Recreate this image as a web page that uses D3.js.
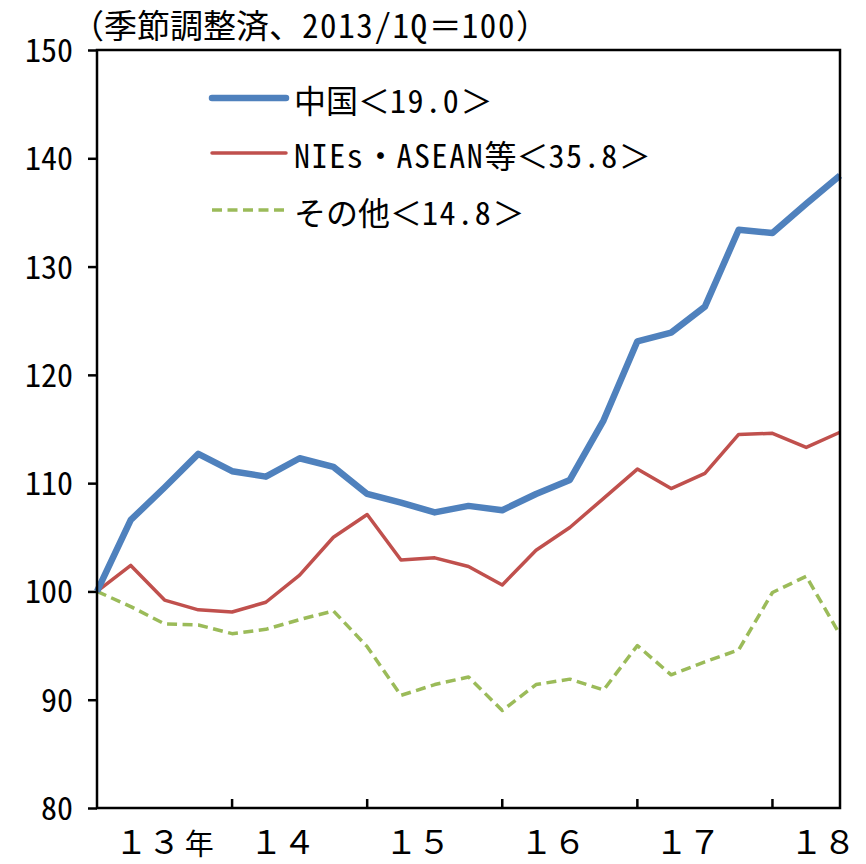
<!DOCTYPE html>
<html>
<head>
<meta charset="utf-8">
<script src="https://cdn.jsdelivr.net/npm/d3@7"></script>
<style>
  body { margin: 0; background: #fff; }
  svg text {
    font-family: "Noto Sans CJK JP", sans-serif;
    fill: #000;
  }
  /* half-width latin like the original gothic font */
  .hw { font-feature-settings: "hwid" 1; }
  .wide .hw { letter-spacing: 1.6px; }
</style>
</head>
<body>
<div id="container"></div>
<script>
//quarters 2013/1Q - 2018/3Q
const quarters = [
  "13/1Q", "13/2Q", "13/3Q", "13/4Q",
  "14/1Q", "14/2Q", "14/3Q", "14/4Q",
  "15/1Q", "15/2Q", "15/3Q", "15/4Q",
  "16/1Q", "16/2Q", "16/3Q", "16/4Q",
  "17/1Q", "17/2Q", "17/3Q", "17/4Q",
  "18/1Q", "18/2Q", "18/3Q",
];
const china = [
  100, 106.6, 109.6, 112.7, 111.1, 110.6, 112.3, 111.5, 109.0, 108.2, 107.3,
  107.9, 107.5, 109.0, 110.3, 115.8, 123.1, 123.9, 126.3, 133.4, 133.1, 135.8,
  138.4,
];
const niesAsean = [
  100, 102.4, 99.2, 98.3, 98.1, 99.0, 101.5, 105.0, 107.1, 102.9, 103.1, 102.3,
  100.6, 103.8, 105.9, 108.6, 111.3, 109.5, 110.9, 114.5, 114.6, 113.3, 114.7,
];
const others = [
  100, 98.6, 97.0, 96.9, 96.1, 96.5, 97.4, 98.2, 94.9, 90.4, 91.4, 92.1, 89.0,
  91.4, 91.9, 90.9, 95.0, 92.3, 93.5, 94.6, 99.9, 101.4, 96.0,
];
const seriesNames = ["中国＜19.0＞", "NIEs・ASEAN等＜35.8＞", "その他＜14.8＞"];
const yTicks = [80, 90, 100, 110, 120, 130, 140, 150];
const yearLabels = ["１３", "１４", "１５", "１６", "１７", "１８"];
const yearUnit = "年";
const title = "（季節調整済、2013/1Q＝100）";

const width = 866,
  height = 864;
const plotLeft = 97,
  plotRight = 840,
  plotTop = 50,
  plotBottom = 808;

//split a string so ascii runs get half-width glyphs
const writeMixed = (textSel, str) => {
  const runs = str.match(/[\x20-\x7e]+|[^\x20-\x7e]+/g) || [];
  runs.forEach((r) => {
    textSel
      .append("tspan")
      .attr("class", /^[\x20-\x7e]/.test(r) ? "hw" : null)
      .text(r);
  });
};

const svg = d3
  .select("#container")
  .append("svg")
  .attr("width", width)
  .attr("height", height);

const x = d3.scalePoint().domain(quarters).range([plotLeft, plotRight]);
const y = d3.scaleLinear().domain([80, 150]).range([plotBottom, plotTop]);

//y axis
const yAxis = d3
  .axisLeft(y)
  .tickValues(yTicks)
  .tickSize(9)
  .tickSizeOuter(0)
  .tickPadding(15);
const yG = svg
  .append("g")
  .attr("transform", `translate(${plotLeft},0)`)
  .call(yAxis);
yG.select(".domain").remove();
yG.selectAll(".tick line").attr("stroke", "#000").attr("stroke-width", 2.5);
yG.selectAll(".tick text")
  .attr("class", "hw")
  .style("font-size", "32px")
  .attr("dy", "0.36em");

//x axis ticks at each 1Q (inside)
const yearStarts = quarters.filter((q, i) => i > 0 && q.endsWith("/1Q"));
svg
  .append("g")
  .selectAll("line")
  .data(yearStarts)
  .enter()
  .append("line")
  .attr("x1", (d) => x(d))
  .attr("x2", (d) => x(d))
  .attr("y1", plotBottom)
  .attr("y2", plotBottom - 9)
  .attr("stroke", "#000")
  .attr("stroke-width", 2.5);

//year labels centred between 2Q and 3Q
const labelX = (i) => {
  const yy = quarters[i * 4].slice(0, 2);
  return (x(yy + "/2Q") + x(yy + "/3Q")) / 2;
};
svg
  .append("g")
  .selectAll("text")
  .data(yearLabels)
  .enter()
  .append("text")
  .attr("x", (d, i) => labelX(i))
  .attr("y", 854)
  .attr("text-anchor", "middle")
  .style("font-size", "33px")
  .text((d) => d);
svg
  .append("text")
  .attr("x", labelX(0) + 37)
  .attr("y", 855)
  .style("font-size", "29px")
  .text(yearUnit);

//title
svg
  .append("text")
  .attr("class", "wide")
  .attr("x", 71)
  .attr("y", 38)
  .style("font-size", "33px")
  .call(writeMixed, title);

//lines
const lineStyles = [
  { data: china, color: "#4F81BD", width: 6.5, dash: null },
  { data: niesAsean, color: "#C0504D", width: 3.5, dash: null },
  { data: others, color: "#9BBB59", width: 3.5, dash: "10,5.5" },
];
const line = d3
  .line()
  .x((d, i) => x(quarters[i]))
  .y((d) => y(d));

svg
  .append("g")
  .selectAll("path")
  .data(lineStyles.slice().reverse())
  .enter()
  .append("path")
  .attr("d", (d) => line(d.data))
  .attr("fill", "none")
  .attr("stroke", (d) => d.color)
  .attr("stroke-width", (d) => d.width)
  .attr("stroke-linejoin", "round")
  .attr("stroke-dasharray", (d) => d.dash);

//frame
svg
  .append("rect")
  .attr("x", plotLeft)
  .attr("y", plotTop)
  .attr("width", plotRight - plotLeft)
  .attr("height", plotBottom - plotTop)
  .attr("fill", "none")
  .attr("stroke", "#000")
  .attr("stroke-width", 2.5);

//legend
const legendRows = [98, 153, 210];
const legend = svg
  .append("g")
  .selectAll("g")
  .data(lineStyles)
  .enter()
  .append("g")
  .attr("transform", (d, i) => `translate(210, ${legendRows[i]})`);
legend
  .append("line")
  .attr("x1", 2)
  .attr("x2", 76)
  .attr("stroke", (d) => d.color)
  .attr("stroke-width", (d) => d.width)
  .attr("stroke-linecap", (d) => (d.dash ? "butt" : "round"))
  .attr("stroke-dasharray", (d) => d.dash);
legend
  .append("text")
  .attr("class", "wide")
  .attr("x", 84)
  .attr("y", 1)
  .attr("dominant-baseline", "central")
  .style("font-size", "32px")
  .each(function (d, i) {
    writeMixed(d3.select(this), seriesNames[i]);
  });
</script>
</body>
</html>
